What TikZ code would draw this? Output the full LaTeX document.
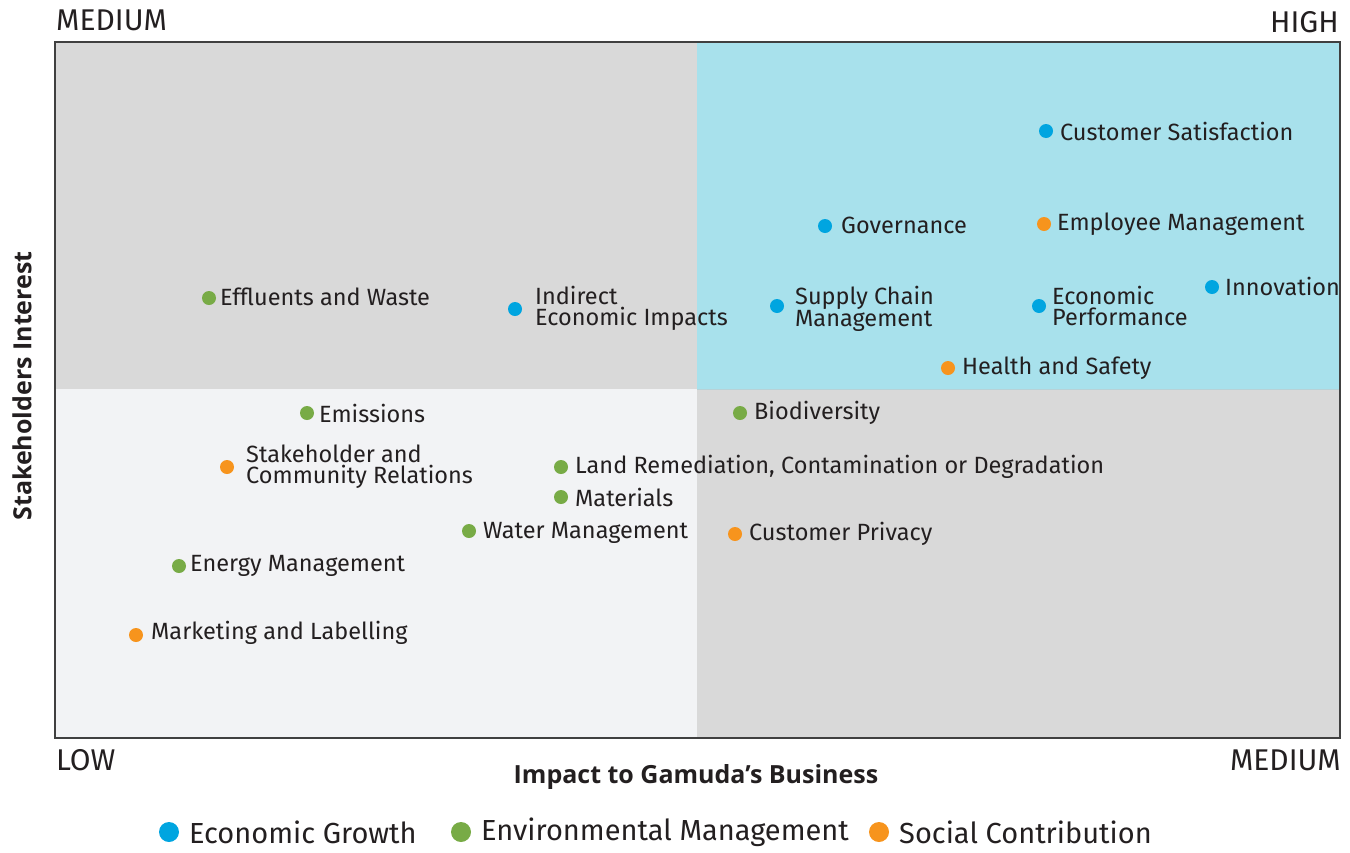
\documentclass[tikz,border=0pt]{standalone}
\usepackage{fontspec}
\setmainfont{Fira Sans}
\newfontfamily\axisfont{Open Sans}
\usetikzlibrary{positioning}
\definecolor{econ}{HTML}{00A5E0}
\definecolor{envi}{HTML}{78AB46}
\definecolor{soci}{HTML}{F7941D}
\definecolor{qgray}{HTML}{D9D9D9}
\definecolor{qcyan}{HTML}{A8E1EC}
\definecolor{qlight}{HTML}{F2F3F5}
\definecolor{txt}{HTML}{231F20}
\tikzset{
  x=1pt, y=-1pt,
  dotE/.style={circle, fill=econ, inner sep=0pt, minimum size=14pt},
  dotV/.style={circle, fill=envi, inner sep=0pt, minimum size=14pt},
  dotS/.style={circle, fill=soci, inner sep=0pt, minimum size=14pt},
  lbl/.style={anchor=west, inner sep=0pt, text=txt, font=\fontsize{23.5}{21}\selectfont, align=left},
  leg/.style={anchor=west, inner sep=0pt, text=txt, font=\fontsize{29}{29}\selectfont},
  axlbl/.style={inner sep=0pt, text=txt, font=\fontsize{30}{30}\selectfont},
}
\begin{document}
\begin{tikzpicture}
\useasboundingbox (0,0) rectangle (1350,852);
% quadrants
\fill[qgray] (55,42) rectangle (697,389);
\fill[qcyan] (697,42) rectangle (1340,389);
\fill[qlight] (55,389) rectangle (697,738);
\fill[qgray] (697,389) rectangle (1340,738);
\draw[qcyan!80!black!60, line width=0.8pt] (697,389) -- (1340,389);
\draw[black!75, line width=1.5pt] (55,42) rectangle (1340,738);

% axis labels
\node[axlbl, anchor=west] (tl) at (56,20) {MEDIUM};
\node[axlbl, anchor=east] (tr) at (1339,22) {HIGH};
\node[axlbl, anchor=west] (bl) at (56,760) {LOW};
\node[axlbl, anchor=east] (br) at (1341,760) {MEDIUM};
\node[inner sep=0pt, text=txt, font=\axisfont\bfseries\fontsize{25}{25}\selectfont] (xt) at (696,777) {Impact to Gamuda’s Business};
\node[inner sep=0pt, text=txt, rotate=90, font=\axisfont\bfseries\fontsize{25}{25}\selectfont] (yt) at (22,386) {Stakeholders Interest};

% points
\node[dotE] (cs) at (1046,131) {};
\node[lbl] (csl) at (1060,131) {Customer Satisfaction};
\node[dotE] (gov) at (825,226) {};
\node[lbl] (govl) at (841,225) {Governance};
\node[dotS] (em) at (1044,224) {};
\node[lbl] (eml) at (1057,224) {Employee Management};
\node[dotE] (inn) at (1212,287) {};
\node[lbl] (innl) at (1225,286) {Innovation};
\node[dotE] (ep) at (1039,306) {};
\node[lbl] (epl) at (1052,306) {Economic\\Performance};
\node[dotE] (sc) at (777,306) {};
\node[lbl] (scl) at (795,309) {Supply Chain\\Management};
\node[dotE] (iei) at (515,309) {};
\node[lbl] (ieil) at (535,308) {Indirect\\Economic Impacts};
\node[dotV] (ew) at (209,298) {};
\node[lbl] (ewl) at (220,297) {Effluents and Waste};
\node[dotS] (hs) at (948,368) {};
\node[lbl] (hsl) at (962,368) {Health and Safety};
\node[dotV] (emi) at (307,413) {};
\node[lbl] (emil) at (319,413) {Emissions};
\node[dotV] (bio) at (740,413) {};
\node[lbl] (biol) at (754,413) {Biodiversity};
\node[dotS] (scr) at (227,467) {};
\node[lbl] (scrl) at (246,467) {Stakeholder and\\Community Relations};
\node[dotV] (lr) at (561,467) {};
\node[lbl] (lrl) at (575,467) {Land Remediation, Contamination or Degradation};
\node[dotV] (mat) at (561,497) {};
\node[lbl] (matl) at (575,497) {Materials};
\node[dotV] (wm) at (469,531) {};
\node[lbl] (wml) at (483,533) {Water Management};
\node[dotS] (cp) at (735,534) {};
\node[lbl] (cpl) at (749,534) {Customer Privacy};
\node[dotV] (en) at (179,566) {};
\node[lbl] (enl) at (190,566) {Energy Management};
\node[dotS] (ml) at (136,635) {};
\node[lbl] (mll) at (151,633) {Marketing and Labelling};

% legend
\node[dotE, minimum size=20pt] (lg1) at (169,832) {};
\node[leg] (lg1t) at (189,832) {Economic Growth};
\node[dotV, minimum size=20pt] (lg2) at (461,832) {};
\node[leg] (lg2t) at (481,832) {Environmental Management};
\node[dotS, minimum size=20pt] (lg3) at (879,832) {};
\node[leg] (lg3t) at (899,832) {Social Contribution};
\end{tikzpicture}
\end{document}
